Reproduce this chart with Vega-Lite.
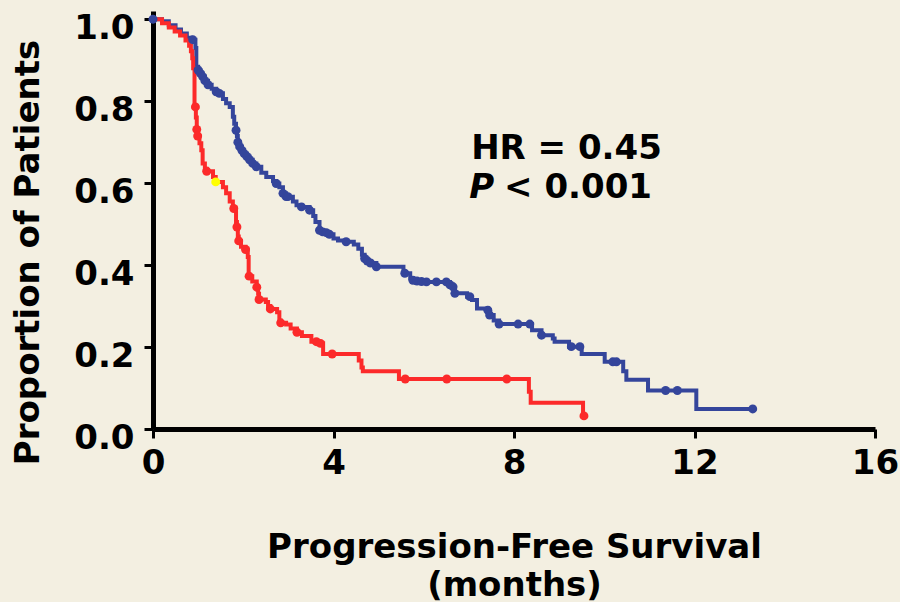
{
  "$schema": "https://vega.github.io/schema/vega-lite/v6.json",
  "width": 722,
  "height": 418,
  "autosize": "none",
  "padding": {"left": 153, "top": 11, "right": 25, "bottom": 173},
  "background": "#f3efe1",
  "config": {
    "view": {"stroke": null},
    "font": "DejaVu Sans",
    "axis": {
      "grid": false,
      "domainColor": "#000000",
      "domainWidth": 5,
      "tickColor": "#000000",
      "tickWidth": 3,
      "tickSize": 9,
      "labelColor": "#000000",
      "labelFont": "DejaVu Sans",
      "labelFontSize": 34,
      "labelFontWeight": "bold",
      "titleColor": "#000000",
      "titleFont": "DejaVu Sans",
      "titleFontSize": 34,
      "titleFontWeight": "bold"
    }
  },
  "datasets": {
    "km": [
      {"a": "A", "t": 0.00, "s": 1.000, "c": 1},
      {"a": "A", "t": 0.20, "s": 0.995, "c": 0},
      {"a": "A", "t": 0.35, "s": 0.985, "c": 0},
      {"a": "A", "t": 0.50, "s": 0.975, "c": 0},
      {"a": "A", "t": 0.62, "s": 0.965, "c": 0},
      {"a": "A", "t": 0.75, "s": 0.955, "c": 0},
      {"a": "A", "t": 0.85, "s": 0.950, "c": 0},
      {"a": "A", "t": 0.88, "s": 0.950, "c": 1},
      {"a": "A", "t": 0.94, "s": 0.930, "c": 0},
      {"a": "A", "t": 0.96, "s": 0.884, "c": 0},
      {"a": "A", "t": 1.00, "s": 0.876, "c": 1},
      {"a": "A", "t": 1.05, "s": 0.868, "c": 1},
      {"a": "A", "t": 1.10, "s": 0.860, "c": 1},
      {"a": "A", "t": 1.15, "s": 0.850, "c": 1},
      {"a": "A", "t": 1.22, "s": 0.840, "c": 1},
      {"a": "A", "t": 1.30, "s": 0.830, "c": 0},
      {"a": "A", "t": 1.40, "s": 0.823, "c": 1},
      {"a": "A", "t": 1.47, "s": 0.819, "c": 1},
      {"a": "A", "t": 1.55, "s": 0.805, "c": 0},
      {"a": "A", "t": 1.62, "s": 0.795, "c": 0},
      {"a": "A", "t": 1.70, "s": 0.786, "c": 0},
      {"a": "A", "t": 1.77, "s": 0.762, "c": 0},
      {"a": "A", "t": 1.80, "s": 0.745, "c": 0},
      {"a": "A", "t": 1.84, "s": 0.729, "c": 1},
      {"a": "A", "t": 1.86, "s": 0.715, "c": 0},
      {"a": "A", "t": 1.88, "s": 0.700, "c": 1},
      {"a": "A", "t": 1.92, "s": 0.689, "c": 1},
      {"a": "A", "t": 1.97, "s": 0.680, "c": 1},
      {"a": "A", "t": 2.02, "s": 0.672, "c": 1},
      {"a": "A", "t": 2.08, "s": 0.665, "c": 1},
      {"a": "A", "t": 2.14, "s": 0.657, "c": 1},
      {"a": "A", "t": 2.21, "s": 0.648, "c": 1},
      {"a": "A", "t": 2.29, "s": 0.640, "c": 1},
      {"a": "A", "t": 2.40, "s": 0.625, "c": 0},
      {"a": "A", "t": 2.51, "s": 0.615, "c": 0},
      {"a": "A", "t": 2.66, "s": 0.605, "c": 0},
      {"a": "A", "t": 2.73, "s": 0.599, "c": 1},
      {"a": "A", "t": 2.80, "s": 0.590, "c": 0},
      {"a": "A", "t": 2.88, "s": 0.575, "c": 1},
      {"a": "A", "t": 2.95, "s": 0.567, "c": 1},
      {"a": "A", "t": 2.99, "s": 0.567, "c": 1},
      {"a": "A", "t": 3.10, "s": 0.555, "c": 0},
      {"a": "A", "t": 3.18, "s": 0.546, "c": 0},
      {"a": "A", "t": 3.29, "s": 0.542, "c": 1},
      {"a": "A", "t": 3.47, "s": 0.534, "c": 1},
      {"a": "A", "t": 3.55, "s": 0.520, "c": 0},
      {"a": "A", "t": 3.60, "s": 0.505, "c": 0},
      {"a": "A", "t": 3.69, "s": 0.485, "c": 1},
      {"a": "A", "t": 3.76, "s": 0.481, "c": 1},
      {"a": "A", "t": 3.84, "s": 0.479, "c": 1},
      {"a": "A", "t": 3.91, "s": 0.475, "c": 1},
      {"a": "A", "t": 4.00, "s": 0.465, "c": 0},
      {"a": "A", "t": 4.10, "s": 0.460, "c": 0},
      {"a": "A", "t": 4.28, "s": 0.457, "c": 1},
      {"a": "A", "t": 4.45, "s": 0.450, "c": 0},
      {"a": "A", "t": 4.55, "s": 0.440, "c": 0},
      {"a": "A", "t": 4.63, "s": 0.425, "c": 0},
      {"a": "A", "t": 4.69, "s": 0.416, "c": 1},
      {"a": "A", "t": 4.75, "s": 0.410, "c": 1},
      {"a": "A", "t": 4.82, "s": 0.405, "c": 1},
      {"a": "A", "t": 4.95, "s": 0.396, "c": 1},
      {"a": "A", "t": 5.55, "s": 0.380, "c": 0},
      {"a": "A", "t": 5.58, "s": 0.380, "c": 1},
      {"a": "A", "t": 5.70, "s": 0.368, "c": 0},
      {"a": "A", "t": 5.76, "s": 0.363, "c": 1},
      {"a": "A", "t": 5.85, "s": 0.361, "c": 1},
      {"a": "A", "t": 5.95, "s": 0.360, "c": 1},
      {"a": "A", "t": 6.06, "s": 0.359, "c": 1},
      {"a": "A", "t": 6.28, "s": 0.359, "c": 1},
      {"a": "A", "t": 6.50, "s": 0.359, "c": 1},
      {"a": "A", "t": 6.58, "s": 0.352, "c": 1},
      {"a": "A", "t": 6.65, "s": 0.347, "c": 1},
      {"a": "A", "t": 6.69, "s": 0.331, "c": 1},
      {"a": "A", "t": 6.96, "s": 0.323, "c": 0},
      {"a": "A", "t": 7.02, "s": 0.323, "c": 1},
      {"a": "A", "t": 7.07, "s": 0.315, "c": 0},
      {"a": "A", "t": 7.18, "s": 0.294, "c": 0},
      {"a": "A", "t": 7.42, "s": 0.290, "c": 1},
      {"a": "A", "t": 7.46, "s": 0.278, "c": 1},
      {"a": "A", "t": 7.55, "s": 0.265, "c": 0},
      {"a": "A", "t": 7.67, "s": 0.256, "c": 1},
      {"a": "A", "t": 8.09, "s": 0.256, "c": 1},
      {"a": "A", "t": 8.35, "s": 0.256, "c": 1},
      {"a": "A", "t": 8.40, "s": 0.241, "c": 0},
      {"a": "A", "t": 8.61, "s": 0.229, "c": 1},
      {"a": "A", "t": 8.86, "s": 0.221, "c": 0},
      {"a": "A", "t": 8.90, "s": 0.213, "c": 0},
      {"a": "A", "t": 9.22, "s": 0.201, "c": 0},
      {"a": "A", "t": 9.27, "s": 0.201, "c": 1},
      {"a": "A", "t": 9.46, "s": 0.201, "c": 1},
      {"a": "A", "t": 9.50, "s": 0.183, "c": 0},
      {"a": "A", "t": 10.01, "s": 0.164, "c": 0},
      {"a": "A", "t": 10.19, "s": 0.164, "c": 1},
      {"a": "A", "t": 10.27, "s": 0.164, "c": 1},
      {"a": "A", "t": 10.42, "s": 0.141, "c": 0},
      {"a": "A", "t": 10.49, "s": 0.120, "c": 0},
      {"a": "A", "t": 10.97, "s": 0.094, "c": 0},
      {"a": "A", "t": 11.36, "s": 0.094, "c": 1},
      {"a": "A", "t": 11.62, "s": 0.094, "c": 1},
      {"a": "A", "t": 12.04, "s": 0.049, "c": 0},
      {"a": "A", "t": 13.29, "s": 0.049, "c": 1},
      {"a": "B", "t": 0.00, "s": 1.000, "c": 0},
      {"a": "B", "t": 0.20, "s": 0.990, "c": 0},
      {"a": "B", "t": 0.35, "s": 0.980, "c": 0},
      {"a": "B", "t": 0.48, "s": 0.970, "c": 0},
      {"a": "B", "t": 0.60, "s": 0.960, "c": 0},
      {"a": "B", "t": 0.72, "s": 0.948, "c": 0},
      {"a": "B", "t": 0.80, "s": 0.935, "c": 0},
      {"a": "B", "t": 0.84, "s": 0.922, "c": 0},
      {"a": "B", "t": 0.87, "s": 0.905, "c": 0},
      {"a": "B", "t": 0.89, "s": 0.880, "c": 0},
      {"a": "B", "t": 0.92, "s": 0.786, "c": 0},
      {"a": "B", "t": 0.94, "s": 0.786, "c": 1},
      {"a": "B", "t": 0.95, "s": 0.760, "c": 0},
      {"a": "B", "t": 0.97, "s": 0.731, "c": 1},
      {"a": "B", "t": 0.99, "s": 0.715, "c": 1},
      {"a": "B", "t": 1.03, "s": 0.697, "c": 0},
      {"a": "B", "t": 1.07, "s": 0.680, "c": 0},
      {"a": "B", "t": 1.10, "s": 0.648, "c": 0},
      {"a": "B", "t": 1.15, "s": 0.635, "c": 0},
      {"a": "B", "t": 1.19, "s": 0.629, "c": 1},
      {"a": "B", "t": 1.33, "s": 0.615, "c": 0},
      {"a": "B", "t": 1.39, "s": 0.603, "c": 0},
      {"a": "B", "t": 1.55, "s": 0.590, "c": 0},
      {"a": "B", "t": 1.62, "s": 0.575, "c": 0},
      {"a": "B", "t": 1.70, "s": 0.555, "c": 0},
      {"a": "B", "t": 1.77, "s": 0.542, "c": 0},
      {"a": "B", "t": 1.79, "s": 0.538, "c": 1},
      {"a": "B", "t": 1.84, "s": 0.505, "c": 0},
      {"a": "B", "t": 1.86, "s": 0.493, "c": 1},
      {"a": "B", "t": 1.88, "s": 0.470, "c": 0},
      {"a": "B", "t": 1.90, "s": 0.459, "c": 1},
      {"a": "B", "t": 1.95, "s": 0.445, "c": 0},
      {"a": "B", "t": 2.05, "s": 0.438, "c": 1},
      {"a": "B", "t": 2.10, "s": 0.420, "c": 0},
      {"a": "B", "t": 2.12, "s": 0.373, "c": 0},
      {"a": "B", "t": 2.13, "s": 0.373, "c": 1},
      {"a": "B", "t": 2.20, "s": 0.360, "c": 0},
      {"a": "B", "t": 2.30, "s": 0.346, "c": 1},
      {"a": "B", "t": 2.33, "s": 0.330, "c": 0},
      {"a": "B", "t": 2.35, "s": 0.316, "c": 1},
      {"a": "B", "t": 2.50, "s": 0.310, "c": 0},
      {"a": "B", "t": 2.55, "s": 0.300, "c": 0},
      {"a": "B", "t": 2.60, "s": 0.293, "c": 1},
      {"a": "B", "t": 2.75, "s": 0.285, "c": 0},
      {"a": "B", "t": 2.80, "s": 0.265, "c": 0},
      {"a": "B", "t": 2.83, "s": 0.259, "c": 1},
      {"a": "B", "t": 2.95, "s": 0.255, "c": 0},
      {"a": "B", "t": 3.05, "s": 0.245, "c": 0},
      {"a": "B", "t": 3.19, "s": 0.236, "c": 1},
      {"a": "B", "t": 3.30, "s": 0.227, "c": 0},
      {"a": "B", "t": 3.51, "s": 0.213, "c": 0},
      {"a": "B", "t": 3.62, "s": 0.213, "c": 1},
      {"a": "B", "t": 3.71, "s": 0.209, "c": 1},
      {"a": "B", "t": 3.77, "s": 0.183, "c": 0},
      {"a": "B", "t": 3.97, "s": 0.183, "c": 1},
      {"a": "B", "t": 4.56, "s": 0.167, "c": 0},
      {"a": "B", "t": 4.62, "s": 0.150, "c": 0},
      {"a": "B", "t": 4.65, "s": 0.141, "c": 0},
      {"a": "B", "t": 5.45, "s": 0.122, "c": 0},
      {"a": "B", "t": 5.59, "s": 0.122, "c": 1},
      {"a": "B", "t": 6.51, "s": 0.122, "c": 1},
      {"a": "B", "t": 7.84, "s": 0.122, "c": 1},
      {"a": "B", "t": 8.33, "s": 0.091, "c": 0},
      {"a": "B", "t": 8.37, "s": 0.064, "c": 0},
      {"a": "B", "t": 9.53, "s": 0.032, "c": 0},
      {"a": "B", "t": 9.55, "s": 0.032, "c": 1},
      {"a": "Y", "t": 1.39, "s": 0.603, "c": 1}
    ],
    "notes": [
      {"label": "HR = 0.45", "t": 7.05, "s": 0.658, "style": "normal"},
      {"label": "P", "t": 7.01, "s": 0.563, "style": "italic"},
      {"label": "< 0.001", "t": 7.78, "s": 0.563, "style": "normal"}
    ]
  },
  "layer": [
    {
      "data": {"name": "km"},
      "transform": [{"filter": "datum.a !== 'Y'"}],
      "mark": {"type": "line", "interpolate": "step-after", "strokeWidth": 4},
      "encoding": {
        "x": {
          "field": "t", "type": "quantitative",
          "scale": {"domain": [0, 16], "nice": false, "zero": false},
          "axis": {
            "values": [0, 4, 8, 12, 16],
            "labelPadding": 8,
            "labelFlush": false,
            "title": ["Progression-Free Survival", "(months)"],
            "titlePadding": 50,
            "titleLineHeight": 38
          }
        },
        "y": {
          "field": "s", "type": "quantitative",
          "scale": {"domain": [0, 1.02], "nice": false},
          "axis": {
            "values": [0, 0.2, 0.4, 0.6, 0.8, 1.0],
            "format": ".1f",
            "labelPadding": 10,
            "labelOffset": 9,
            "labelFlush": false,
            "title": "Proportion of Patients",
            "titleAngle": -90,
            "titleX": -115,
            "titleY": 241,
            "titleAlign": "center",
            "titleBaseline": "alphabetic"
          }
        },
        "color": {
          "field": "a", "type": "nominal",
          "scale": {"domain": ["A", "B", "Y"], "range": ["#34459b", "#fc2a2a", "#ffff00"]},
          "legend": null
        }
      }
    },
    {
      "data": {"name": "km"},
      "transform": [{"filter": "datum.c === 1"}],
      "mark": {"type": "circle", "size": 80, "opacity": 1},
      "encoding": {
        "x": {"field": "t", "type": "quantitative"},
        "y": {"field": "s", "type": "quantitative"},
        "color": {"field": "a", "type": "nominal", "legend": null}
      }
    },
    {
      "data": {"name": "notes"},
      "transform": [{"filter": "datum.style === 'normal'"}],
      "mark": {"type": "text", "align": "left", "baseline": "alphabetic", "fontSize": 34, "fontWeight": "bold", "font": "DejaVu Sans", "color": "#000000"},
      "encoding": {
        "x": {"field": "t", "type": "quantitative"},
        "y": {"field": "s", "type": "quantitative"},
        "text": {"field": "label"}
      }
    },
    {
      "data": {"name": "notes"},
      "transform": [{"filter": "datum.style === 'italic'"}],
      "mark": {"type": "text", "align": "left", "baseline": "alphabetic", "fontSize": 34, "fontWeight": "bold", "fontStyle": "italic", "font": "DejaVu Sans", "color": "#000000"},
      "encoding": {
        "x": {"field": "t", "type": "quantitative"},
        "y": {"field": "s", "type": "quantitative"},
        "text": {"field": "label"}
      }
    }
  ]
}
